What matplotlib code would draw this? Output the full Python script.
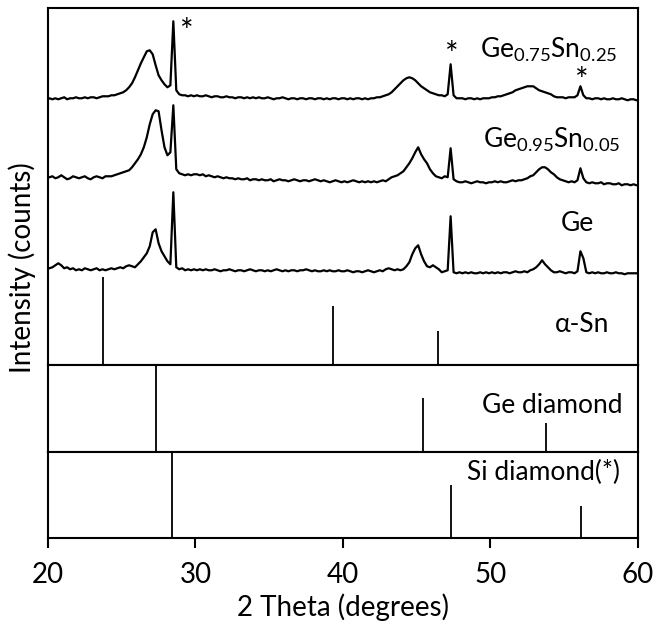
import numpy as np
import matplotlib.pyplot as plt

plt.rcParams['font.family'] = 'Lato'
plt.rcParams['mathtext.fontset'] = 'custom'
plt.rcParams['mathtext.rm'] = 'Lato'

# scan positions (deg 2theta)
two_theta = np.r_[20.0, np.round(np.arange(20.1, 60.0, 0.2), 1), 60.0]

# measured patterns, background-subtracted intensity (a.u.)
ge75_sn25 = [1,
             2, 1, 2, 1, 2, 3, 1, 2, 2, 3,
             2, 2, 3, 2, 3, 3, 2, 3, 4, 4,
             4, 5, 5, 6, 7, 8, 10, 13, 17, 23,
             30, 37, 43, 49, 50, 46, 35, 25, 20, 16,
             13, 15, 79, 10, 6, 5, 5, 4, 5, 4,
             5, 4, 4, 5, 4, 3, 4, 4, 3, 3,
             4, 3, 3, 2, 3, 3, 2, 3, 2, 3,
             2, 3, 2, 2, 3, 2, 1, 2, 2, 3,
             2, 1, 2, 2, 1, 2, 2, 1, 2, 2,
             1, 2, 2, 1, 2, 1, 2, 2, 1, 2,
             2, 1, 2, 1, 2, 2, 1, 2, 1, 2,
             2, 3, 3, 4, 5, 6, 8, 11, 14, 17,
             20, 22, 23, 22, 20, 17, 14, 12, 10, 8,
             7, 6, 5, 5, 4, 6, 36, 5, 2, 2,
             2, 1, 2, 2, 1, 2, 1, 2, 2, 2,
             3, 3, 4, 4, 5, 6, 7, 8, 10, 11,
             12, 13, 14, 14, 14, 12, 10, 9, 8, 7,
             6, 4, 3, 3, 3, 2, 3, 3, 3, 5,
             14, 5, 2, 2, 1, 2, 2, 1, 2, 1,
             1, 2, 1, 1, 2, 1, 0, 1, 1, 0,
             0]

ge95_sn05 = [3,
             3, 4, 2, 3, 5, 3, 1, 2, 4, 3,
             2, 3, 4, 2, 1, 3, 4, 3, 2, 4,
             4, 4, 5, 6, 7, 8, 9, 10, 13, 17,
             21, 26, 33, 43, 56, 66, 70, 69, 50, 33,
             25, 28, 75, 11, 7, 6, 5, 6, 5, 6,
             6, 5, 6, 4, 5, 4, 3, 4, 3, 2,
             3, 2, 2, 1, 2, 1, 1, 2, 0, 1,
             1, 0, 1, 0, 0, 1, -1, 0, 1, 0,
             0, -1, 0, 1, 0, -1, 0, 0, -1, 0,
             1, 0, -1, 0, -1, -2, -1, 0, -1, -2,
             -1, -2, -1, 0, -1, -2, -1, -2, -1, -2,
             -1, -2, -1, 0, -1, 1, 3, 4, 5, 7,
             9, 13, 17, 22, 28, 33, 26, 21, 17, 11,
             7, 4, 3, 2, 4, 3, 32, 1, -1, -2,
             -2, -1, -2, -3, -2, -1, -2, -2, -3, -2,
             -2, -1, -2, -1, -2, -2, -1, 0, -1, 0,
             0, 1, 2, 4, 5, 8, 11, 13, 13, 11,
             8, 6, 3, 1, 0, -1, -2, -1, -2, 0,
             12, 2, -2, -3, -2, -3, -3, -2, -4, -3,
             -3, -4, -4, -3, -5, -4, -4, -5, -4, -5,
             -5]

ge_pure = [2,
           2, 3, 5, 7, 5, 2, 3, 1, 2, 0,
           1, 0, 2, 1, 0, 1, 2, 0, 1, 0,
           1, 2, 1, 2, 3, 2, 4, 5, 4, 3,
           6, 9, 13, 17, 24, 38, 41, 27, 19, 14,
           9, 6, 78, 3, 1, 2, 0, 1, 0, 1,
           0, 1, 0, 1, 0, 0, 1, 0, -1, 0,
           0, 1, 0, -1, 0, 0, -1, 0, 1, 0,
           -1, 0, 0, -1, 0, -1, 0, 1, 0, -1,
           0, -1, 0, 0, -1, 0, 0, 1, 0, -1,
           0, -1, -1, 0, -1, 0, -1, -1, 0, -1,
           -1, 0, -1, -2, -1, -1, -2, -1, 0, -1,
           -2, -1, 0, -1, 1, 2, 1, 0, 1, 0,
           1, 4, 8, 16, 22, 25, 16, 9, 4, 3,
           5, 3, 1, -2, -1, 0, 54, -2, -3, -2,
           -3, -2, -3, -2, -3, -3, -2, -3, -2, -3,
           -2, -3, -2, -3, -2, -2, -3, -2, -1, -2,
           -2, -1, -2, 0, 1, 3, 6, 10, 6, 3,
           0, -2, -2, -1, -2, -3, -2, -2, -3, -1,
           19, 12, -2, -3, -2, -3, -2, -3, -3, -2,
           -3, -3, -2, -3, -3, -4, -3, -3, -3, -3,
           -3]

# reference stick patterns (relative intensity)
sn_alpha_pos = [23.7, 39.3, 46.45]
sn_alpha_int = [100, 67, 39]
ge_dia_pos = [27.3, 45.4, 53.8]
ge_dia_int = [100, 62, 34]
si_dia_pos = [28.44, 47.3, 56.12]
si_dia_int = [100, 62, 37]

fig = plt.figure(figsize=(6.57, 6.37), dpi=100)
gs = fig.add_gridspec(3, 1, height_ratios=[357, 87, 86], hspace=0,
                      left=0.073, right=0.971, top=0.987, bottom=0.155)
ax = fig.add_subplot(gs[0])
ax_ge = fig.add_subplot(gs[1], sharex=ax)
ax_si = fig.add_subplot(gs[2], sharex=ax)

lw = 1.6
ax.plot(two_theta, np.array(ge75_sn25) + 265, color='black', lw=lw)
ax.plot(two_theta, np.array(ge95_sn05) + 185, color='black', lw=lw)
ax.plot(two_theta, np.array(ge_pure) + 95, color='black', lw=lw)
ax.vlines(sn_alpha_pos, 0, np.array(sn_alpha_int) * 0.88, color='black', lw=1.3)
ax.set_ylim(0, 357)

ax_ge.vlines(ge_dia_pos, 0, ge_dia_int, color='black', lw=1.3)
ax_ge.set_ylim(0, 100)
ax_si.vlines(si_dia_pos, 0, si_dia_int, color='black', lw=1.3)
ax_si.set_ylim(0, 100)

fs = 19
ax.text(58.6, 316, r'Ge$_{\mathregular{0.75}}$Sn$_{\mathregular{0.25}}$', fontsize=fs,
        ha='right', va='center')
ax.text(58.8, 226, r'Ge$_{\mathregular{0.95}}$Sn$_{\mathregular{0.05}}$', fontsize=fs,
        ha='right', va='center')
ax.text(55.9, 142, 'Ge', fontsize=fs, ha='center', va='center')
ax.text(56.2, 41, 'α-Sn', fontsize=fs, ha='center', va='center')
ax_ge.text(54.2, 54, 'Ge diamond', fontsize=fs, ha='center', va='center')
ax_si.text(53.6, 77, 'Si diamond(*)', fontsize=fs, ha='center', va='center')

for sx, sy in [(29.4, 332), (47.4, 309), (56.2, 283)]:
    ax.text(sx, sy, '*', fontsize=23, ha='center', va='center')

for a in (ax, ax_ge, ax_si):
    a.set_yticks([])
    for s in a.spines.values():
        s.set_linewidth(1.5)
ax.tick_params(axis='x', bottom=False, labelbottom=False)
ax_ge.tick_params(axis='x', bottom=False, labelbottom=False)

ax_si.set_xlim(20, 60)
ax_si.set_xticks([20, 30, 40, 50, 60])
ax_si.tick_params(axis='x', direction='out', length=7, width=1.5, labelsize=20, pad=10)
ax_si.set_xlabel('2 Theta (degrees)', fontsize=20, labelpad=4)
fig.text(22 / 657, 1 - 268 / 637, 'Intensity (counts)', fontsize=20,
         rotation=90, ha='center', va='center')

fig.savefig('out.png', dpi=100)
